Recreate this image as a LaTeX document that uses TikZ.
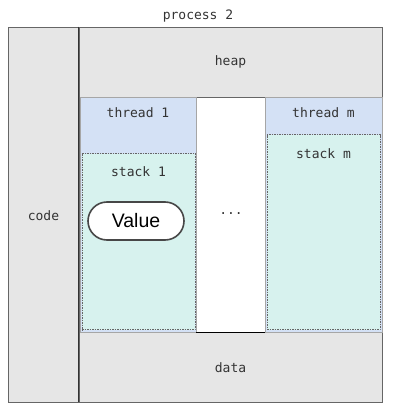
\documentclass[tikz,border=0pt]{standalone}
\usepackage{fontspec}
\setmainfont{Liberation Sans}
\newfontfamily\monof{DejaVu Sans Mono}
\definecolor{grayfill}{HTML}{E6E6E6}
\definecolor{bluefill}{HTML}{D4E1F5}
\definecolor{tealfill}{HTML}{D7F2EE}
\definecolor{edgegray}{HTML}{666666}
\definecolor{darkline}{HTML}{333333}
\definecolor{txt}{HTML}{333333}
\begin{document}
\begin{tikzpicture}[x=1pt,y=-1pt,
  box/.style={rectangle,draw=edgegray,line width=0.9pt,inner sep=0pt,anchor=center},
  graybox/.style={box,fill=grayfill},
  threadbox/.style={box,fill=bluefill,draw=black!35},
  stackbox/.style={box,fill=tealfill,draw=black!60,dashed,dash pattern=on 1.5pt off 1pt,line width=1pt},
  mono/.style={font=\monof\fontsize{13}{15}\selectfont,text=txt,inner sep=0pt},
  pill/.style={rectangle,rounded corners=19pt,draw=darkline!90,line width=1.6pt,fill=white,inner sep=0pt,font=\fontsize{19.5}{22}\selectfont}]
\useasboundingbox (0,0) rectangle (407,403);
\node[graybox,minimum width=71pt,minimum height=375pt] (code) at (43.5,214.5) {};
\node[graybox,minimum width=303pt,minimum height=70pt] (heap) at (230.5,62) {};
\node[graybox,minimum width=303pt,minimum height=70pt] (data) at (230.5,367) {};
\node[threadbox,minimum width=116pt,minimum height=235pt] (t1) at (138,214.5) {};
\node[threadbox,minimum width=117pt,minimum height=235pt] (tm) at (323.5,214.5) {};
\node[stackbox,minimum width=113pt,minimum height=176pt] (s1) at (138.5,242) {};
\node[stackbox,minimum width=113pt,minimum height=195pt] (sm) at (323.5,232.5) {};
\draw[darkline,line width=1.6pt] (heap.north west) -- (data.south west);
\draw[black,line width=1pt] (t1.south east) -- (tm.south west);
\node[mono] (ptitle) at (198,16) {process 2};
\node[mono] (lheap) at (230.5,62) {heap};
\node[mono] (ldata) at (230.5,368) {data};
\node[mono] (lcode) at (43.5,216) {code};
\node[mono] (lt1) at (138,113) {thread 1};
\node[mono] (ltm) at (323.5,113) {thread m};
\node[mono] (ls1) at (138.5,172) {stack 1};
\node[mono] (lsm) at (323.5,154) {stack m};
\node[mono] (dots) at (231,214) {...};
\node[pill,minimum width=96pt,minimum height=38pt] (val) at (136,221) {Value};
\end{tikzpicture}
\end{document}
